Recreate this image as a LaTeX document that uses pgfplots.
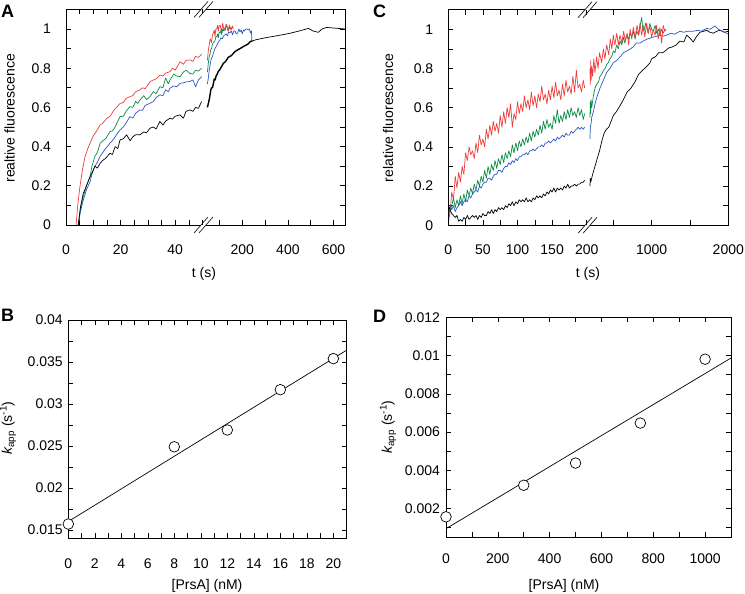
\documentclass[border=0pt]{standalone}
\usepackage{pgfplots}
\pgfplotsset{compat=1.18}
\usepackage{fontspec}
\setmainfont{Liberation Sans}
\setsansfont{Liberation Sans}
\definecolor{cred}{RGB}{240,60,60}
\definecolor{cgreen}{RGB}{10,140,70}
\definecolor{cblue}{RGB}{45,85,195}
\pgfplotsset{
  base/.style={scale only axis, anchor=south west, tick align=inside,
    major tick length=5pt, minor tick length=5pt,
    tick style={black, line width=0.6pt},
    tick label style={font=\fontsize{14}{16}\selectfont},
    axis line style={line width=0.7pt},
    scaled x ticks=false, scaled y ticks=false,
    xtick pos=both,
    /pgf/number format/assume math mode=true},
  seg/.style={base, axis line style={draw=none}, ymin=0, ymax=1.1, height=215.6pt,
    ytick={0,0.2,0.4,0.6,0.8,1}, minor ytick={0.1,0.3,0.5,0.7,0.9},
    yticklabels={0,0.2,0.4,0.6,0.8,1},
    yticklabel style={xshift=-11.5pt}, xticklabel style={yshift=-16pt}},
  dl/.style={line width=0.7pt, line join=round},
}
\begin{document}
\begin{tikzpicture}
\useasboundingbox (0,0) rectangle (745pt,594pt);
\tikzset{frame/.style={black, line width=0.7pt}}
% ---------------- Panel A, segment 1
\begin{axis}[seg, at={(66pt,369pt)}, width=139.2pt, xmin=0, xmax=51,
  ytick pos=left,
  xtick={0,20,40}, xticklabels={0,20,40}, minor xtick={5,10,15,25,30,35,45,50}]
\addplot[dl, cred] coordinates {(3.7,0.0) (4.3,0.1) (5.1,0.195) (6,0.28) (7,0.35) (8,0.39) (8.8,0.417) (10,0.455) (11,0.475) (12.5,0.51) (13.5,0.52) (15,0.545) (16.1,0.553) (17.5,0.585) (18.5,0.6) (19.8,0.62) (21,0.625) (22,0.645) (23.4,0.655) (24.5,0.66) (25.5,0.68) (27.1,0.689) (28,0.7) (29,0.695) (30.8,0.731) (32,0.74) (33,0.745) (34.4,0.765) (35.5,0.76) (36.5,0.775) (38.1,0.782) (39,0.8) (40,0.79) (41.8,0.833) (43,0.82) (44,0.84) (45.4,0.842) (46.5,0.835) (47.5,0.86) (48.5,0.855) (49.7,0.871)};
\addplot[dl, cgreen] coordinates {(4.5,0) (5.2,0.08) (6.3,0.144) (7.5,0.2) (8.8,0.246) (9.5,0.3) (10.6,0.35) (11.5,0.37) (12.5,0.417) (13.5,0.43) (14.5,0.44) (16.1,0.476) (17,0.48) (18,0.5) (19,0.53) (19.8,0.553) (21,0.555) (22,0.58) (23.4,0.604) (24.5,0.6) (25.5,0.63) (26.3,0.62) (27.1,0.638) (28.5,0.66) (29.5,0.64) (30.8,0.655) (32,0.68) (33,0.67) (34.4,0.706) (35.5,0.7) (36.5,0.75) (37.5,0.72) (38.1,0.74) (39.5,0.77) (40.5,0.76) (41.8,0.757) (43,0.78) (44,0.79) (45.4,0.773) (46.5,0.77) (47.5,0.79) (48.5,0.785) (49.7,0.8)};
\addplot[dl, cblue] coordinates {(4.5,0) (5.3,0.07) (6.3,0.126) (7.5,0.18) (8.8,0.22) (9.7,0.27) (10.6,0.3) (11.5,0.32) (12.5,0.35) (13.5,0.37) (14.5,0.39) (16.1,0.417) (17,0.43) (18,0.45) (19,0.47) (19.8,0.485) (21,0.5) (22,0.52) (23.4,0.553) (24.5,0.545) (25.5,0.57) (27.1,0.587) (28,0.585) (29,0.61) (30.8,0.621) (32,0.63) (33,0.65) (34.4,0.664) (35.5,0.66) (36.5,0.69) (37.5,0.68) (38.1,0.698) (39.5,0.71) (40.5,0.705) (41.8,0.723) (43,0.725) (44,0.73) (45.4,0.732) (46.5,0.74) (47.5,0.705) (48.5,0.74) (49.7,0.757)};
\addplot[dl, black] coordinates {(4.5,0) (5.3,0.09) (6.3,0.16) (7.5,0.2) (8.8,0.246) (9.7,0.27) (10.6,0.3) (11.5,0.29) (12.5,0.315) (13.5,0.33) (14.5,0.34) (16.1,0.366) (17,0.36) (18,0.4) (19,0.39) (19.8,0.434) (21,0.44) (22.2,0.46) (23.5,0.43) (24.5,0.45) (25.5,0.46) (27.1,0.46) (28.5,0.475) (29.5,0.47) (30.8,0.494) (32,0.5) (33,0.49) (34.4,0.528) (35.5,0.51) (36.5,0.53) (38.1,0.545) (39,0.54) (40,0.555) (41.8,0.562) (43,0.545) (44,0.58) (45.4,0.587) (46.5,0.58) (47.5,0.6) (48.5,0.595) (49.7,0.63)};
\end{axis}
% ---------------- Panel A, segment 2
\begin{axis}[seg, at={(205.2pt,369pt)}, width=139.7pt, xmin=37.3, xmax=650,
  ytick pos=right, yticklabels={},
  xtick={200,400,600}, xticklabels={200,400,600}, minor xtick={100,300,500}]
\addplot[dl, black, line width=1.4pt] coordinates {(47,0.6) (51,0.62) (55,0.64) (58,0.66) (62,0.69) (65,0.7) (69,0.7) (73,0.72) (77,0.745) (81,0.74) (85,0.76) (90,0.77) (95,0.785) (100,0.79) (105,0.80) (110,0.81) (117,0.825) (123,0.83) (130,0.84) (138,0.855) (145,0.86) (153,0.865) (161,0.876) (168,0.885) (175,0.89) (182,0.895) (190,0.9) (197,0.905) (204,0.91) (212,0.915) (220,0.92) (227,0.925) (234,0.935) (245,0.94)};
\addplot[dl, black] coordinates {(245,0.94) (260,0.945) (300,0.955) (350,0.965) (409,0.978) (450,0.99) (490,1.003) (510,0.99) (533,0.983) (550,1.0) (570,1.008) (600,1.005) (650,1.0)};
\addplot[dl, cblue] coordinates {(47,0.72) (51,0.75) (55,0.79) (58,0.81) (62,0.84) (65,0.85) (69,0.86) (73,0.875) (77,0.89) (80,0.9) (85,0.91) (90,0.92) (96,0.935) (102,0.944) (107,0.955) (112,0.95) (118,0.965) (124,0.97) (130,0.975) (135,0.965) (140,0.985) (146,0.98) (152,0.99) (157,0.97) (163,0.99) (168,0.99) (174,0.975) (180,0.98) (185,1.0) (190,0.986) (195,0.995) (200,0.975) (205,0.995) (210,0.99) (215,1.0) (220,1.0) (227,0.995) (232,1.0) (235,0.98) (240,0.99) (242,0.94)};
\addplot[dl, cgreen] coordinates {(47,0.78) (51,0.825) (55,0.86) (58,0.87) (62,0.895) (65,0.9) (69,0.92) (73,0.93) (77,0.935) (80,0.94) (84,0.96) (88,0.96) (92,0.975) (95,0.955) (99,0.985) (103,0.98) (107,0.995) (110,0.97) (114,1.0) (117,0.99) (121,1.005) (124,0.99) (128,1.01) (131,1.02) (135,1.0) (138,0.99) (142,1.01) (146,1.0) (150,1.01) (153,1.0)};
\addplot[dl, cred] coordinates {(47,0.84) (51,0.89) (55,0.92) (58,0.945) (60,0.95) (65,0.93) (69,0.97) (73,0.98) (77,0.995) (80,0.96) (84,1.0) (88,1.0) (92,1.02) (95,0.99) (99,1.015) (103,1.02) (107,0.995) (110,0.99) (114,1.03) (117,1.01) (121,0.995) (125,1.0) (129,1.025) (132,1.02) (136,1.0) (140,0.99) (143,1.02) (146,1.01) (150,0.995) (153,1.0) (157,1.015) (161,1.0)};
\end{axis}
% frame + breaks A
\draw[frame] (201pt,369pt) -- (66pt,369pt) -- (66pt,584.6pt) -- (201pt,584.6pt);
\draw[frame] (206pt,369pt) -- (345pt,369pt) -- (345pt,584.6pt) -- (206pt,584.6pt);
\draw[frame, line width=0.6pt] (194pt,361pt) -- (208pt,377pt) (199pt,361pt) -- (213pt,377pt);
\draw[frame, line width=0.6pt] (194pt,576.6pt) -- (208pt,592.6pt) (199pt,576.6pt) -- (213pt,592.6pt);
% ---------------- Panel C, segment 1
\begin{axis}[seg, at={(448.3pt,368.7pt)}, width=140.5pt, xmin=0, xmax=203,
  ytick pos=left,
  xtick={0,50,100,150,200}, xticklabels={0,50,100,150,200}, minor xtick={25,75,125,175}]
\addplot[dl, cred] coordinates {(0,0.10) (2.5,0.06) (5,0.17) (7.5,0.13) (10,0.25) (12.5,0.19) (15,0.27) (17.5,0.22) (20,0.30) (22.5,0.26) (25,0.37) (27.5,0.33) (30,0.40) (32.5,0.36) (35,0.38) (37.5,0.34) (40,0.42) (42.5,0.37) (45,0.46) (47.5,0.41) (50,0.44) (52.5,0.40) (55,0.49) (57.5,0.44) (60,0.51) (62.5,0.46) (65,0.53) (67.5,0.48) (70,0.52) (72.5,0.47) (75,0.56) (77.5,0.50) (80,0.58) (82.5,0.52) (85,0.60) (87.5,0.55) (90,0.62) (92.5,0.50) (95,0.57) (97.5,0.54) (100,0.63) (102.5,0.57) (105,0.62) (107.5,0.58) (110,0.66) (112.5,0.60) (115,0.64) (117.5,0.59) (120,0.68) (122.5,0.61) (125,0.66) (127.5,0.60) (130,0.67) (132.5,0.63) (135,0.71) (137.5,0.64) (140,0.67) (142.5,0.62) (145,0.69) (147.5,0.64) (150,0.71) (152.5,0.65) (155,0.73) (157.5,0.66) (160,0.69) (162.5,0.64) (165,0.72) (167.5,0.66) (170,0.74) (172.5,0.68) (175,0.71) (177.5,0.67) (180,0.76) (182.5,0.68) (185,0.79) (187.5,0.70) (190,0.72) (192.5,0.68) (195,0.74) (197,0.70)};
\addplot[dl, cgreen] coordinates {(0,0.00) (2.5,0.08) (5,0.10) (7.5,0.14) (10,0.09) (12.5,0.13) (15,0.10) (17.5,0.15) (20,0.11) (22.5,0.16) (25,0.12) (27.5,0.18) (30,0.15) (32.5,0.19) (35,0.16) (37.5,0.21) (40,0.18) (42.5,0.23) (45,0.20) (47.5,0.25) (50,0.22) (52.5,0.28) (55,0.24) (57.5,0.30) (60,0.26) (62.5,0.31) (65,0.28) (67.5,0.33) (70,0.29) (72.5,0.34) (75,0.31) (77.5,0.36) (80,0.32) (82.5,0.37) (85,0.34) (87.5,0.38) (90,0.35) (92.5,0.41) (95,0.37) (97.5,0.42) (100,0.38) (102.5,0.43) (105,0.40) (107.5,0.44) (110,0.41) (112.5,0.45) (115,0.42) (117.5,0.47) (120,0.43) (122.5,0.48) (125,0.45) (127.5,0.49) (130,0.46) (132.5,0.51) (135,0.47) (137.5,0.53) (140,0.49) (142.5,0.54) (145,0.50) (147.5,0.52) (150,0.49) (152.5,0.56) (155,0.52) (157.5,0.59) (160,0.52) (162.5,0.56) (165,0.53) (167.5,0.58) (170,0.54) (172.5,0.59) (175,0.55) (177.5,0.60) (180,0.56) (182.5,0.58) (185,0.55) (187.5,0.60) (190,0.56) (192.5,0.59) (195,0.54) (197,0.57)};
\addplot[dl, cblue] coordinates {(0,0.07) (2.5,0.10) (5,0.08) (7.5,0.10) (10,0.07) (12.5,0.09) (15,0.10) (17.5,0.12) (20,0.10) (22.5,0.12) (25,0.13) (27.5,0.12) (30,0.15) (32.5,0.14) (35,0.16) (37.5,0.17) (40,0.18) (42.5,0.17) (45,0.20) (47.5,0.19) (50,0.21) (52.5,0.22) (55,0.22) (57.5,0.24) (60,0.24) (62.5,0.23) (65,0.25) (67.5,0.26) (70,0.26) (72.5,0.28) (75,0.28) (77.5,0.27) (80,0.29) (82.5,0.30) (85,0.30) (87.5,0.32) (90,0.31) (92.5,0.33) (95,0.32) (97.5,0.34) (100,0.33) (102.5,0.35) (105,0.35) (107.5,0.36) (110,0.36) (112.5,0.37) (115,0.36) (117.5,0.38) (120,0.38) (122.5,0.39) (125,0.38) (127.5,0.39) (130,0.40) (132.5,0.40) (135,0.41) (137.5,0.40) (140,0.42) (142.5,0.42) (145,0.43) (147.5,0.42) (150,0.43) (152.5,0.44) (155,0.43) (157.5,0.45) (160,0.44) (162.5,0.45) (165,0.46) (167.5,0.45) (170,0.47) (172.5,0.46) (175,0.46) (177.5,0.48) (180,0.47) (182.5,0.48) (185,0.49) (187.5,0.50) (190,0.49) (192.5,0.50) (195,0.49) (197,0.50)};
\addplot[dl, black] coordinates {(0,0.10) (2.5,0.08) (5,0.06) (7.5,0.05) (10,0.04) (12.5,0.05) (15,0.02) (17.5,0.03) (20,0.02) (22.5,0.04) (25,0.03) (27.5,0.05) (30,0.03) (32.5,0.04) (35,0.05) (37.5,0.04) (40,0.05) (42.5,0.03) (45,0.05) (47.5,0.04) (50,0.06) (52.5,0.05) (55,0.05) (57.5,0.07) (60,0.06) (62.5,0.08) (65,0.06) (67.5,0.08) (70,0.07) (72.5,0.09) (75,0.08) (77.5,0.09) (80,0.08) (82.5,0.10) (85,0.09) (87.5,0.11) (90,0.10) (92.5,0.12) (95,0.10) (97.5,0.12) (100,0.11) (102.5,0.13) (105,0.12) (107.5,0.13) (110,0.12) (112.5,0.14) (115,0.12) (117.5,0.13) (120,0.12) (122.5,0.14) (125,0.13) (127.5,0.15) (130,0.14) (132.5,0.15) (135,0.14) (137.5,0.16) (140,0.15) (142.5,0.17) (145,0.16) (147.5,0.18) (150,0.17) (152.5,0.19) (155,0.17) (157.5,0.19) (160,0.18) (162.5,0.19) (165,0.18) (167.5,0.20) (170,0.19) (172.5,0.21) (175,0.19) (177.5,0.20) (180,0.20) (182.5,0.21) (185,0.20) (187.5,0.21) (190,0.21) (192.5,0.22) (195,0.22) (197,0.23)};
\end{axis}
% ---------------- Panel C, segment 2
\begin{axis}[seg, at={(588.8pt,368.7pt)}, width=139.5pt, xmin=180, xmax=2000,
  ytick pos=right, yticklabels={},
  xtick={1000,2000}, xticklabels={1000,2000}, minor xtick={500,1500}]
\addplot[dl, black] coordinates {(195,0.20) (200,0.24) (205,0.22) (230,0.26) (260,0.30) (290,0.34) (320,0.38) (350,0.43) (380,0.47) (410,0.49) (440,0.50) (470,0.53) (500,0.56) (540,0.58) (587,0.61) (630,0.64) (680,0.68) (730,0.70) (780,0.73) (830,0.77) (880,0.79) (935,0.81) (980,0.83) (1000,0.85) (1050,0.86) (1091,0.88) (1140,0.88) (1180,0.89) (1222,0.905) (1270,0.91) (1320,0.92) (1369,0.94) (1420,0.935) (1456,0.97) (1500,0.955) (1543,0.935) (1580,0.96) (1630,0.985) (1680,0.99) (1717,0.995) (1760,0.985) (1803,0.98) (1850,0.99) (1890,0.995) (1950,0.985) (2000,0.99)};
\addplot[dl, cblue] coordinates {(195,0.44) (200,0.50) (210,0.52) (218,0.55) (240,0.58) (261,0.62) (290,0.66) (326,0.70) (370,0.74) (413,0.78) (456,0.80) (500,0.83) (540,0.84) (590,0.86) (630,0.88) (680,0.89) (720,0.90) (760,0.91) (800,0.93) (850,0.93) (891,0.94) (940,0.95) (980,0.955) (1021,0.96) (1070,0.965) (1110,0.97) (1150,0.965) (1195,0.97) (1250,0.98) (1300,0.975) (1369,0.99) (1420,0.985) (1470,0.99) (1543,0.99) (1600,0.995) (1650,0.99) (1717,1.005) (1760,1.0) (1800,1.01) (1825,1.017) (1870,1.0) (1900,0.995) (1950,0.985) (1978,0.98) (2000,0.975)};
\addplot[dl, cgreen] coordinates {(195,0.55) (200,0.63) (205,0.57) (210,0.64) (218,0.60) (240,0.66) (261,0.70) (283,0.72) (305,0.73) (326,0.76) (348,0.77) (370,0.79) (391,0.80) (413,0.82) (435,0.83) (456,0.85) (478,0.86) (500,0.89) (521,0.88) (543,0.92) (565,0.90) (587,0.94) (610,0.92) (630,0.96) (650,0.93) (675,0.97) (700,0.95) (717,0.98) (740,0.96) (760,0.99) (785,0.95) (804,0.99) (830,0.97) (855,1.03) (870,1.06) (885,1.0) (900,0.99) (920,1.03) (935,1.01) (955,0.98) (975,1.03) (1000,1.0) (1021,0.99) (1045,1.02) (1065,0.98) (1090,1.0) (1108,0.97) (1130,1.0) (1150,0.98) (1173,1.0)};
\addplot[dl, cred] coordinates {(195,0.80) (200,0.72) (205,0.84) (210,0.74) (218,0.81) (230,0.76) (245,0.85) (260,0.78) (283,0.86) (300,0.80) (320,0.88) (348,0.83) (370,0.90) (390,0.85) (413,0.92) (440,0.87) (460,0.95) (480,0.90) (500,0.97) (520,0.92) (545,0.98) (565,0.92) (587,0.97) (610,0.93) (635,0.99) (655,0.94) (680,0.98) (700,0.92) (720,1.0) (740,0.95) (760,1.01) (785,0.96) (810,1.02) (830,0.97) (847,1.03) (870,0.97) (890,1.02) (910,0.96) (935,1.03) (955,0.98) (975,1.02) (1000,0.96) (1021,1.0) (1045,0.97) (1065,1.02) (1085,0.95) (1108,1.01) (1130,0.93) (1150,1.02) (1173,0.99) (1190,1.0)};
\end{axis}
% frame + breaks C
\draw[frame] (585pt,368.7pt) -- (448.3pt,368.7pt) -- (448.3pt,584.3pt) -- (585pt,584.3pt);
\draw[frame] (590pt,368.7pt) -- (728.3pt,368.7pt) -- (728.3pt,584.3pt) -- (590pt,584.3pt);
\draw[frame, line width=0.6pt] (578pt,360.7pt) -- (592pt,376.7pt) (583pt,360.7pt) -- (597pt,376.7pt);
\draw[frame, line width=0.6pt] (578pt,576.3pt) -- (592pt,592.3pt) (583pt,576.3pt) -- (597pt,592.3pt);
% ---------------- Panel B
\begin{axis}[base, at={(68.3pt,55.7pt)}, width=278.3pt, height=218.3pt,
  xmin=0, xmax=21, ymin=0.014, ymax=0.04,
  xtick={0,2,4,6,8,10,12,14,16,18,20}, xticklabels={0,2,4,6,8,10,12,14,16,18,20},
  minor xtick={1,3,5,7,9,11,13,15,17,19},
  ytick={0.015,0.02,0.025,0.03,0.035,0.04}, yticklabels={0.015,0.02,0.025,0.03,0.035,0.04},
  minor ytick={0.0175,0.0225,0.0275,0.0325,0.0375},
  ytick pos=both,
  yticklabel style={xshift=-2pt}, xticklabel style={yshift=-17pt}]
\addplot[black, line width=0.7pt] coordinates {(0,0.0160) (21,0.0364)};
\addplot[only marks, mark=*, mark size=5.3pt, mark options={fill=white, draw=black, line width=0.7pt}] coordinates {(0,0.0157) (8,0.0249) (12,0.0269) (16,0.0317) (20,0.0354)};
\end{axis}
% ---------------- Panel D
\begin{axis}[base, at={(446pt,56.7pt)}, width=285pt, height=220pt,
  xmin=0, xmax=1100, ymin=0.0005, ymax=0.012,
  xtick={0,200,400,600,800,1000}, xticklabels={0,200,400,600,800,1000},
  minor xtick={100,300,500,700,900},
  ytick={0.002,0.004,0.006,0.008,0.01,0.012}, yticklabels={0.002,0.004,0.006,0.008,0.01,0.012},
  minor ytick={0.001,0.003,0.005,0.007,0.009,0.011},
  ytick pos=both,
  yticklabel style={xshift=-2.6pt}, xticklabel style={yshift=-13pt}]
\addplot[black, line width=0.7pt] coordinates {(0,0.00095) (1100,0.00987)};
\addplot[only marks, mark=*, mark size=5.3pt, mark options={fill=white, draw=black, line width=0.7pt}] coordinates {(0,0.00157) (300,0.00322) (500,0.00438) (750,0.00647) (1000,0.00981)};
\end{axis}
% ---------------- labels
\begin{scope}[font=\fontsize{14}{16}\selectfont]
\node[rotate=90] at (9.5pt,475.7pt) {realtive fluorescence};
\node at (204pt,320pt) {t (s)};
\node[rotate=90] at (388pt,476pt) {relative fluorescence};
\node at (588pt,320pt) {t (s)};
\node[rotate=90] at (8pt,166pt) {{\itshape k}\textsubscript{app} (s\textsuperscript{-1})};
\node at (207pt,8pt) {[PrsA] (nM)};
\node[rotate=90] at (388pt,167pt) {{\itshape k}\textsubscript{app} (s\textsuperscript{-1})};
\node at (564pt,8pt) {[PrsA] (nM)};
\end{scope}
\begin{scope}[font=\fontsize{18}{20}\selectfont\bfseries]
\node at (7.5pt,582.3pt) {A};
\node at (379.5pt,582.3pt) {C};
\node at (7.5pt,278.2pt) {B};
\node at (379.5pt,277.3pt) {D};
\end{scope}
\end{tikzpicture}
\end{document}
